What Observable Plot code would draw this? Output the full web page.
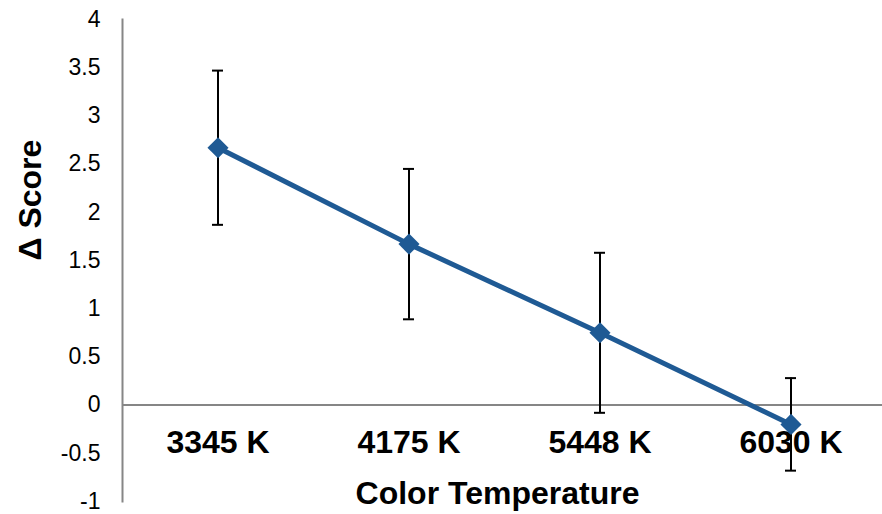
<!DOCTYPE html>
<html><head><meta charset="utf-8">
<script src="https://cdn.jsdelivr.net/npm/d3@7"></script>
<script src="https://cdn.jsdelivr.net/npm/@observablehq/plot@0.6"></script>
<style>body{margin:0;background:#fff;overflow:hidden}</style>
</head><body><div id="chart"></div>
<script>
const categories = ["3345 K", "4175 K", "5448 K", "6030 K"];
const means = [2.67, 1.67, 0.75, -0.20];
const errors = [0.80, 0.78, 0.83, 0.48];
const yTicks = [-1, -0.5, 0, 0.5, 1, 1.5, 2, 2.5, 3, 3.5, 4];
const xTitle = "Color Temperature";
const yTitle = "Δ Score";

const data = categories.map((c, i) => ({c, m: means[i], lo: means[i] - errors[i], hi: means[i] + errors[i], zero: 0}));
const blue = "#1f5a94";
const grey = "#868686";

const chart = Plot.plot({
  width: 882, height: 514,
  marginTop: 19, marginBottom: 13, marginLeft: 122, marginRight: 0,
  style: {fontFamily: "'Liberation Sans', Arial, sans-serif", background: "#fff", color: "#000"},
  x: {type: "band", domain: categories, paddingInner: 0, paddingOuter: -0.018, align: 0, axis: null},
  y: {domain: [-1, 4]},
  marks: [
    Plot.frame({anchor: "left", stroke: grey, strokeWidth: 2}),
    Plot.ruleY([0], {stroke: grey, strokeWidth: 2}),
    Plot.axisY(yTicks, {tickSize: 0, tickPadding: 22, tickFormat: d => String(d), fontSize: 23, label: null}),
    Plot.text(data, {x: "c", y: "zero", dy: 38, text: "c", fontSize: 32, fontWeight: "bold", fill: "#000"}),
    Plot.ruleX(data, {x: "c", y1: "lo", y2: "hi", stroke: "#000", strokeWidth: 2}),
    Plot.tickY(data, {x: "c", y: "hi", stroke: "#000", strokeWidth: 2, insetLeft: 90, insetRight: 90}),
    Plot.tickY(data, {x: "c", y: "lo", stroke: "#000", strokeWidth: 2, insetLeft: 90, insetRight: 90}),
    Plot.line(data, {x: "c", y: "m", stroke: blue, strokeWidth: 5}),
    Plot.dot(data, {x: "c", y: "m", symbol: "diamond2", r: 9.5, fill: blue, stroke: "none"}),
    Plot.text([xTitle], {frameAnchor: "bottom", lineAnchor: "middle", dx: -5, dy: -8, fontSize: 32, fontWeight: "bold", fill: "#000"}),
    Plot.text([yTitle], {frameAnchor: "left", dx: -92, rotate: -90, fontSize: 32, fontWeight: "bold", fill: "#000"})
  ]
});
document.getElementById("chart").append(chart);
</script>
</body></html>
